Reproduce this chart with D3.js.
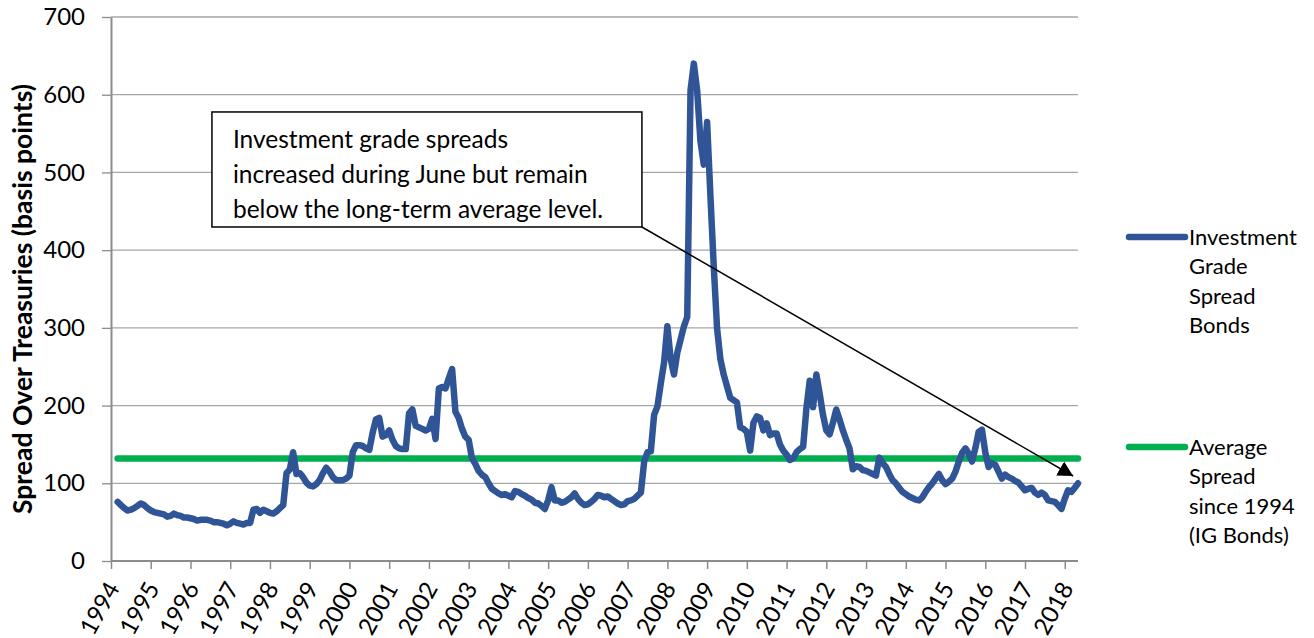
<!DOCTYPE html>
<head>
<meta charset="utf-8">
<style>
body { margin: 0; background: #fff; }
text { font-family: "Lato", sans-serif; fill: #000; }
.grid line { stroke: #a6a6a6; stroke-width: 1.3px; }
.axis path, .axis line { stroke: #8c8c8c; stroke-width: 2px; }
.axis text { font-size: 24px; font-family: "Lato", sans-serif; fill: #000; }
.spread { fill: none; stroke: #2f5597; stroke-width: 6.5px; stroke-linejoin: round; stroke-linecap: round; }
.average { fill: none; stroke: #00b050; stroke-width: 6.5px; stroke-linecap: round; }
</style>
</head>
<body>
<script src="https://d3js.org/d3.v7.min.js"></script>
<script>

// year labels on the x axis
var yearLabels = ["1994","1995","1996","1997","1998","1999","2000","2001","2002","2003","2004","2005",
                  "2006","2007","2008","2009","2010","2011","2012","2013","2014","2015","2016","2017","2018"];
var yTicks = [0, 100, 200, 300, 400, 500, 600, 700];

// monthly investment grade spread (bp), first value is March 1994
var firstYear = 1994, firstMonth = 3;
var igSpread = [
  76, 72, 68, 65, 66, 68, 71, 74, 72, 68,                 // 1994 (Mar-Dec)
  65, 63, 62, 61, 60, 57, 58, 61, 59, 58, 56, 56,         // 1995
  55, 54, 52, 53, 53, 53, 52, 50, 50, 49, 48, 46,         // 1996
  48, 51, 49, 48, 47, 49, 49, 66, 67, 62, 66, 64,         // 1997
  62, 61, 64, 68, 72, 113, 118, 140, 112, 113, 108, 101,  // 1998
  97, 96, 99, 104, 113, 120, 115, 108, 104, 104, 104, 106,// 1999
  110, 140, 149, 149, 148, 145, 143, 165, 182, 184, 160, 162, // 2000
  168, 156, 148, 145, 144, 144, 190, 195, 174, 172, 170, 168, // 2001
  170, 183, 157, 222, 224, 222, 235, 247, 192, 184, 170, 160, // 2002
  156, 132, 125, 116, 111, 108, 100, 93, 90, 87, 85, 86,  // 2003
  84, 82, 90, 89, 86, 84, 81, 79, 75, 74, 71, 67,         // 2004
  78, 95, 78, 78, 75, 76, 79, 82, 87, 80, 75, 72,         // 2005
  73, 76, 80, 85, 84, 82, 83, 80, 77, 74, 72, 73,         // 2006
  77, 78, 80, 84, 88, 128, 140, 141, 188, 199, 228, 255,  // 2007
  302, 260, 240, 268, 285, 302, 314, 606, 640, 605, 540, 510, // 2008
  565, 470, 380, 300, 260, 240, 225, 210, 207, 204, 172, 170, // 2009
  166, 142, 178, 186, 184, 168, 177, 162, 164, 164, 150, 142, // 2010
  137, 130, 132, 140, 144, 147, 197, 232, 198, 240, 215, 188, // 2011
  168, 163, 178, 195, 182, 168, 156, 145, 118, 122, 121, 117, // 2012
  116, 114, 112, 110, 133, 126, 121, 112, 104, 100, 94, 89,   // 2013
  86, 83, 81, 79, 78, 82, 89, 95, 100, 106, 112, 104,     // 2014
  99, 102, 106, 115, 128, 139, 145, 138, 128, 145, 166, 169,  // 2015
  140, 121, 126, 124, 115, 106, 111, 108, 106, 103, 101, 96,  // 2016
  91, 93, 94, 88, 85, 88, 85, 78, 77, 76, 72, 67,         // 2017
  80, 91, 89, 94, 100                                     // 2018 (Jan-May)
];
var averageSpread = 132;

var seriesNames = [["Investment", "Grade", "Spread", "Bonds"],
                   ["Average", "Spread", "since 1994", "(IG Bonds)"]];
var seriesColors = ["#2f5597", "#00b050"];
var noteLines = ["Investment grade spreads",
                 "increased during June but remain",
                 "below the long-term average level."];

// turn the monthly list into points
var data = igSpread.map(function(v, i) {
  return { t: firstYear + (firstMonth - 1 + i) / 12, v: v };
});

var width = 1314, height = 638;
var plot = {left: 111, right: 1078, top: 17, bottom: 561};

var x = d3.scaleLinear().domain([1994, data[data.length - 1].t]).range([plot.left, plot.right]);
var y = d3.scaleLinear().domain([0, 700]).range([plot.bottom, plot.top]);

var svg = d3.select("body").append("svg")
    .attr("width", width)
    .attr("height", height);

// horizontal grid lines
svg.append("g").attr("class", "grid")
  .selectAll("line")
  .data(yTicks.slice(1))
  .enter().append("line")
    .attr("x1", plot.left).attr("x2", plot.right)
    .attr("y1", function(d) { return y(d); })
    .attr("y2", function(d) { return y(d); });

// y axis
var yAxis = svg.append("g").attr("class", "axis")
    .attr("transform", "translate(" + plot.left + ",0)")
    .call(d3.axisLeft(y).tickValues(yTicks).tickSize(9).tickSizeOuter(0).tickPadding(17));
yAxis.selectAll(".tick line").style("stroke-width", "1.3px");

// x axis
var xAxis = svg.append("g").attr("class", "axis")
    .attr("transform", "translate(0," + plot.bottom + ")")
    .call(d3.axisBottom(x).tickValues(yearLabels.map(Number)).tickFormat(d3.format("d"))
          .tickSize(8).tickSizeOuter(0));
xAxis.select(".domain").attr("d", "M" + plot.left + ",0H" + plot.right);
xAxis.selectAll(".tick line").style("stroke-width", "1.5px");
xAxis.selectAll(".tick text")
    .attr("x", 0).attr("y", 0).attr("dy", 0)
    .attr("text-anchor", "end")
    .attr("transform", "translate(9,27) rotate(-61)");

// y axis title
svg.append("text")
    .attr("transform", "translate(32,299) rotate(-90)")
    .attr("text-anchor", "middle")
    .style("font-size", "26.5px")
    .style("font-weight", "bold")
    .text("Spread Over Treasuries (basis points)");

// average line
svg.append("path")
    .attr("class", "average")
    .attr("d", d3.line()([[x(data[0].t), y(averageSpread)], [x(data[data.length - 1].t), y(averageSpread)]]));

// spread line
svg.append("path")
    .datum(data)
    .attr("class", "spread")
    .attr("d", d3.line().x(function(d) { return x(d.t); }).y(function(d) { return y(d.v); }));

// annotation box, placed in data units
var note = {t0: 1996.54, v0: 577.8, t1: 2007.36, v1: 429.8, tipT: 2018.21, tipV: 109.4};
svg.append("defs").append("marker")
    .attr("id", "head")
    .attr("markerUnits", "userSpaceOnUse")
    .attr("markerWidth", 16).attr("markerHeight", 18)
    .attr("viewBox", "0 -9 16 18")
    .attr("refX", 15).attr("refY", 0)
    .attr("orient", "auto")
  .append("path").attr("d", "M0,-8L15,0L0,8Z").attr("fill", "#000");

svg.append("line")
    .attr("x1", x(note.t1)).attr("y1", y(note.v1))
    .attr("x2", x(note.tipT)).attr("y2", y(note.tipV))
    .attr("stroke", "#000").attr("stroke-width", 1.5)
    .attr("marker-end", "url(#head)");

svg.append("rect")
    .attr("x", x(note.t0)).attr("y", y(note.v0))
    .attr("width", x(note.t1) - x(note.t0))
    .attr("height", y(note.v1) - y(note.v0))
    .attr("fill", "#fff").attr("stroke", "#000").attr("stroke-width", 1.5);

svg.append("g").selectAll("text")
    .data(noteLines)
    .enter().append("text")
    .attr("x", x(note.t0) + 21)
    .attr("y", function(d, i) { return y(note.v0) + 36 + i * 35; })
    .style("font-size", "24.5px")
    .text(function(d) { return d; });

// legend
var legend = svg.append("g").selectAll("g")
    .data(seriesNames)
    .enter().append("g")
    .attr("transform", function(d, i) { return "translate(1129," + (237 + i * 210) + ")"; });
legend.append("line")
    .attr("x1", 0).attr("x2", 56)
    .attr("stroke", function(d, i) { return seriesColors[i]; })
    .attr("stroke-width", 6.5).attr("stroke-linecap", "round");
legend.selectAll("text")
    .data(function(d) { return d; })
    .enter().append("text")
    .attr("x", 60)
    .attr("y", function(d, i) { return i * 29.5; })
    .attr("dy", "0.35em")
    .style("font-size", "22px")
    .text(function(d) { return d; });

</script>
</body>
